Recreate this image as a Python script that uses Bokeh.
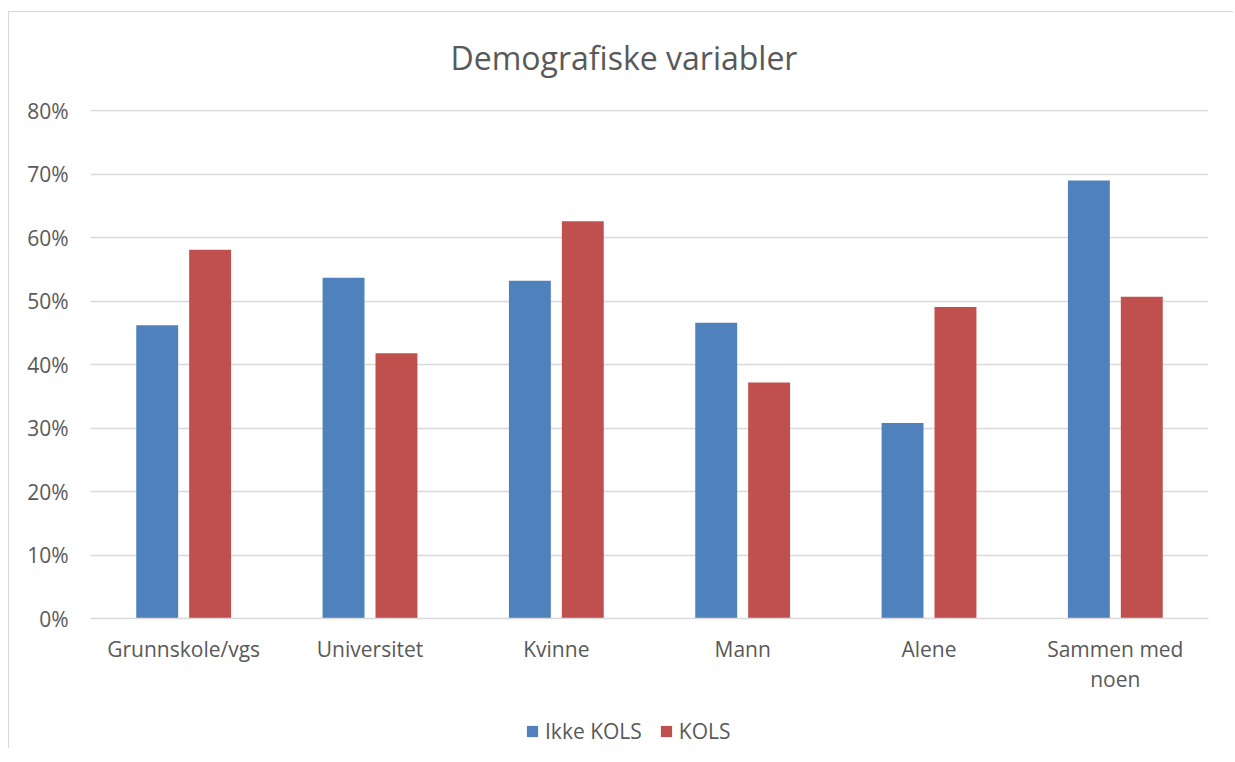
from bokeh.plotting import figure
from bokeh.layouts import column
from bokeh.models import (FixedTicker, PrintfTickFormatter, Legend, LegendItem,
                          ColumnDataSource, Range1d, Label)
from bokeh.embed import file_html
from bokeh.resources import INLINE

# ---- data ----
title_text = "Demografiske variabler"
categories = ["Grunnskole/vgs", "Universitet", "Kvinne", "Mann", "Alene", "Sammen med noen"]
tick_labels = ["Grunnskole/vgs", "Universitet", "Kvinne", "Mann", "Alene", "Sammen med\nnoen"]
series_names = ["Ikke KOLS", "KOLS"]
ikke_kols = [46.2, 53.7, 53.2, 46.6, 30.8, 69.0]
kols = [58.1, 41.8, 62.6, 37.2, 49.1, 50.7]
y_ticks = [0, 10, 20, 30, 40, 50, 60, 70, 80]

# ---- styles ----
FONT = "Open Sans"
TXT = "#595959"
GRID = "#d9d9d9"
COLORS = ["#4F81BD", "#C0504D"]
OFFSET = 0.142
BAR_W = 0.225
W = 1224

centers = [i + 0.5 for i in range(len(categories))]


def strip(height):
    f = figure(width=W, height=height, output_backend="svg", toolbar_location=None,
               x_range=Range1d(0, 1), y_range=Range1d(1000, 1001),
               x_axis_location=None, y_axis_location=None,
               min_border_left=0, min_border_right=0, min_border_top=0, min_border_bottom=0)
    f.outline_line_color = None
    f.xgrid.grid_line_color = None
    f.ygrid.grid_line_color = None
    return f


# ---- title strip ----
pt = strip(80)
pt.add_layout(Label(x=533.5, y=35, x_units="screen", y_units="screen", text=title_text,
                    text_font=FONT, text_font_size="32px", text_color=TXT,
                    text_align="center", text_baseline="alphabetic"))

# ---- main chart ----
p = figure(width=W, height=608, output_backend="svg", toolbar_location=None,
           x_range=Range1d(0, len(categories)), y_range=Range1d(y_ticks[0], y_ticks[-1] + 0.2),
           min_border_left=81, min_border_right=25, min_border_top=17, min_border_bottom=82)
p.outline_line_color = None
p.background_fill_color = "white"
p.border_fill_color = "white"

sources = []
renderers = []
for k, (name, vals) in enumerate(zip(series_names, [ikke_kols, kols])):
    off = -OFFSET if k == 0 else OFFSET
    src = ColumnDataSource(dict(x=[c + off for c in centers], top=vals, cat=categories))
    sources.append(src)
    r = p.vbar(x="x", top="top", bottom=0, width=BAR_W, source=src,
               fill_color=COLORS[k], line_color=None)
    renderers.append(r)

p.xgrid.grid_line_color = None
p.ygrid.grid_line_color = GRID
p.ygrid.grid_line_width = 1.3
p.yaxis.ticker = FixedTicker(ticks=y_ticks)
p.yaxis.formatter = PrintfTickFormatter(format="%d%%")
p.yaxis.axis_line_color = None
p.yaxis.major_tick_line_color = None
p.yaxis.minor_tick_line_color = None
p.yaxis.major_label_standoff = 16
p.yaxis.major_label_text_font = FONT
p.yaxis.major_label_text_font_size = "21px"
p.yaxis.major_label_text_color = TXT

p.xaxis.ticker = FixedTicker(ticks=centers)
p.xaxis.major_label_overrides = {c: t for c, t in zip(centers, tick_labels)}
p.xaxis.axis_line_color = GRID
p.xaxis.axis_line_width = 1.3
p.xaxis.major_tick_line_color = None
p.xaxis.minor_tick_line_color = None
p.xaxis.major_label_standoff = 10
p.xaxis.major_label_text_font = FONT
p.xaxis.major_label_text_font_size = "21px"
p.xaxis.major_label_text_color = TXT
p.xaxis.major_label_text_line_height = 1.08

# ---- legend strip ----
pl = strip(48)
leg_renderers = [pl.vbar(x="x", top="top", bottom=0, width=BAR_W, source=s,
                         fill_color=c, line_color=None) for s, c in zip(sources, COLORS)]
legend = Legend(items=[LegendItem(label=n, renderers=[r]) for n, r in zip(series_names, leg_renderers)],
                orientation="horizontal", location=(435, 3),
                padding=0, margin=0, spacing=17, label_standoff=6,
                glyph_width=14, glyph_height=14, label_height=14,
                label_text_font=FONT, label_text_font_size="21px", label_text_color=TXT,
                border_line_color=None, background_fill_alpha=0)
pl.add_layout(legend, "center")

layout = column(pt, p, pl, spacing=0)
layout.styles = {"border-left": "1px solid #d9d9d9", "border-top": "1px solid #d9d9d9",
                 "margin-left": "8px", "margin-top": "11px"}

open("out.html", "w").write(file_html(layout, INLINE))
